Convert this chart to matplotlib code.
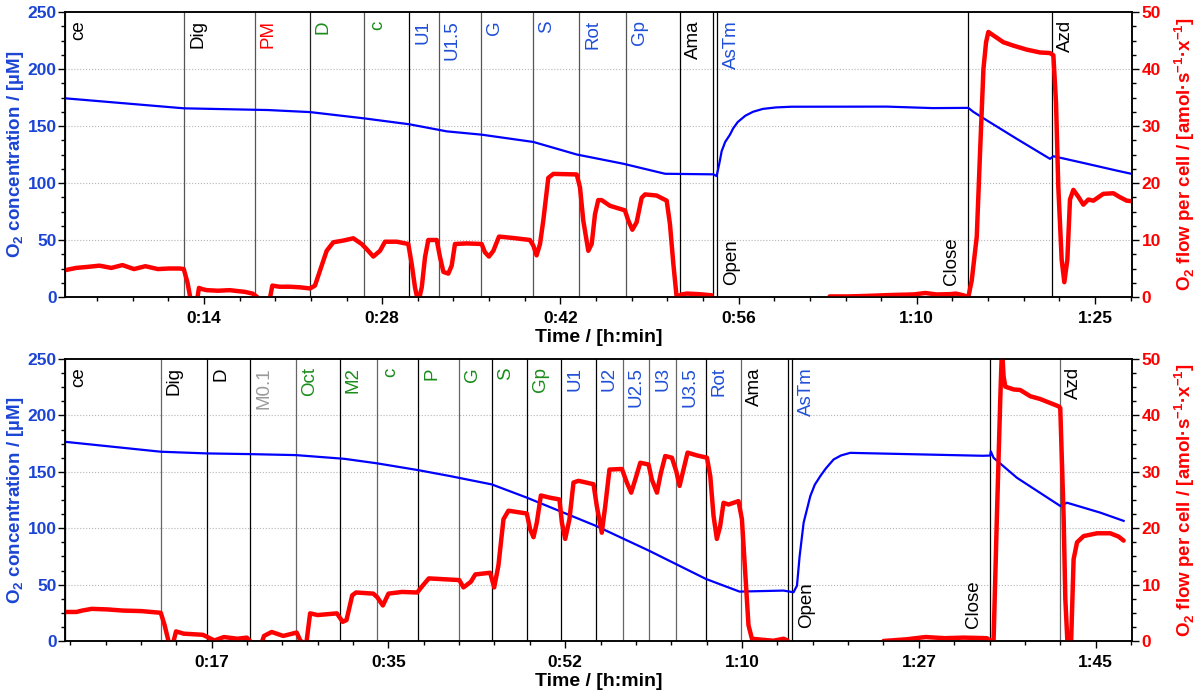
import matplotlib
matplotlib.use('Agg')
import matplotlib.pyplot as plt
from matplotlib.ticker import MultipleLocator, FuncFormatter

nan = float('nan')

# ---- top run (time in minutes) ----
top_conc_t = [3.12, 12.58, 19.26, 22.6, 26.89, 30.5, 33.46, 36.24, 40.35, 43.8, 47.5, 50.82,
              54.66, 54.92, 55.15, 55.32, 55.6, 55.98, 56.24, 56.6, 57.2, 57.82, 58.6, 59.64,
              60.86, 68.46, 72.1, 74.93, 75.33, 76.39, 78.77, 81.42, 81.69, 84.07, 86.72, 87.92]
top_conc = [174.3, 165.5, 164, 162.2, 156.7, 151.5, 145.3, 142.4, 136, 125, 116.9, 108.1,
            107.6, 106.1, 118, 127.9, 136, 142.4, 148, 153.5, 159, 162.5, 165, 166.3,
            166.9, 167, 165.7, 165.9, 162.4, 155, 138.8, 121.2, 123.5, 117.6, 110.9, 108]

top_flow_t = [3.12, 4.0, 5.0, 5.86, 6.8, 7.69, 8.6, 9.51, 10.5, 11.4, 12.25, 12.56, 12.86, 13.07,
              13.3, 13.62, 13.77, 14.0, 14.38, 15.3, 16.2, 17.0, 17.42, 18.03, 18.4, 18.94, 19.43,
              19.6, 20.16, 21.0, 21.8, 22.6, 22.99, 23.39, 23.92, 24.45, 25.24, 26.04, 26.7, 27.1,
              27.63, 28.16, 28.56, 29.49, 30.41, 30.68, 30.94, 31.2, 31.48, 31.74, 32.0, 32.67,
              32.93, 33.2, 33.59, 33.86, 34.12, 35.05, 36.24, 36.5, 36.82, 37.17, 37.62, 38.76,
              40.08, 40.35, 40.61, 40.88, 41.14, 41.54, 41.94, 43.8, 44.06, 44.32, 44.72, 44.99,
              45.25, 45.51, 45.78, 46.44, 47.63, 47.9, 48.22, 48.56, 48.96, 49.23, 50.15, 50.95,
              51.21, 51.48, 51.74, 52.14, 52.54, 53.5, 54.52, 59.0,
              63.9, 65.4, 66.94, 68.77, 70.6, 71.5, 72.4, 73.47, 73.94, 74.53, 74.93, 75.2, 75.6,
              75.86, 76.13, 76.34, 76.52, 76.92, 77.71, 78.51, 79.57, 80.63, 81.42, 81.69, 81.9,
              82.08, 82.35, 82.56, 82.8, 83.01, 83.28, 83.67, 84.07, 84.47, 84.87, 85.66, 86.46,
              86.99, 87.52, 87.92]
top_flow = [4.7, 5.1, 5.3, 5.5, 5.1, 5.6, 4.9, 5.4, 4.9, 5.0, 5.0, 4.9, 2.5, 0.0,
            -3, -0.5, 1.6, 1.4, 1.2, 1.1, 1.2, 1.0, 0.9, 0.6, 0.0, -3, 0.0,
            2.0, 1.8, 1.8, 1.7, 1.5, 2.0, 4.65, 8.1, 9.6, 9.9, 10.3, 9.3, 8.4,
            7.1, 8.1, 9.7, 9.7, 9.3, 5.8, 1.7, -1, 1.7, 7.0, 10.0, 10.0,
            7.0, 4.4, 4.1, 5.5, 9.3, 9.4, 9.3, 7.85, 7.1, 8.1, 10.6, 10.35,
            10.0, 9.0, 7.3, 9.3, 13.4, 20.9, 21.6, 21.5, 19.2, 13.4, 8.1, 9.3,
            14.5, 17.0, 17.0, 16.0, 15.2, 13.4, 11.8, 13.1, 17.4, 18.0, 17.8, 16.9,
            12.8, 5.8, 0.0, 0.45, 0.6, 0.5, 0.3, nan,
            0.1, 0.1, 0.2, 0.35, 0.45, 0.7, 0.45, 0.5, 0.6, 0.3, 0.0, 2.9, 10.6,
            25.3, 40, 44.7, 46.5, 45.9, 44.7, 44.1, 43.4, 42.9, 42.8, 42.4, 34.1,
            19.4, 6.5, 2.6, 6.5, 17.1, 18.8, 17.6, 16.2, 17.1, 16.9, 18.1, 18.2,
            17.5, 16.9, 16.8]

top_events = ['ce', 'Dig', 'PM', 'D', 'c', 'U1', 'U1.5', 'G', 'S', 'Rot', 'Gp', 'Ama', 'AsTm', 'Azd']
top_event_t = [3.12, 12.58, 18.22, 22.56, 26.89, 30.50, 32.85, 36.19, 40.32, 43.98, 47.71,
               51.97, 54.95, 81.58]
top_chamber = ['Open', 'Close']
top_chamber_t = [54.63, 74.90]

# ---- bottom run ----
bot_conc_t = [2.99, 12.47, 17.02, 21.19, 25.84, 30.65, 33.88, 37.94, 41.11, 45.24, 48.7, 55.53,
              60.81, 66.43, 69.75, 74.11, 75.1, 75.44, 75.7, 76.1, 76.76, 77.2, 77.75, 78.3,
              79.06, 79.8, 80.71, 86.27, 93.84, 94.57, 94.62, 94.9, 97.21, 101.5, 102.16,
              105.46, 107.77]
bot_conc = [176.6, 167.8, 166.3, 165.7, 164.8, 161.5, 157.5, 151.5, 146.2, 138.8, 127.1, 102.1,
            80, 55, 43.8, 44.7, 43.2, 49.1, 75, 105, 128.5, 138.5, 146.2, 153,
            160.9, 164.5, 166.8, 165.7, 164.2, 164.4, 168.2, 162.4, 144.7, 119.7, 122.6,
            113.8, 106.5]

bot_flow_t = [2.99, 4.13, 4.70, 5.64, 7.17, 8.68, 10.57, 12.47, 12.85, 13.23, 13.6, 13.98, 14.74,
              16.63, 17.77, 18.72, 20.05, 20.99, 21.56, 22.32, 22.69, 23.45, 24.59, 25.92, 26.3,
              26.87, 27.25, 28.0, 29.9, 30.47, 30.85, 31.42, 31.8, 33.5, 33.88, 34.45, 35.01,
              36.34, 37.85, 38.43, 39.0, 40.89, 42.02, 42.43, 43.16, 43.6, 45.07, 45.47, 45.89,
              46.39, 46.88, 48.7, 49.03, 49.36, 49.69, 50.09, 51.01, 51.93, 52.17, 52.5, 52.92,
              53.32, 53.81, 55.3, 55.63, 56.12, 56.46, 56.88, 58.11, 58.6, 59.03, 59.43, 59.93,
              60.75, 61.08, 61.58, 61.97, 62.4, 63.06, 63.49, 63.82, 64.21, 64.61, 65.54, 66.53,
              66.86, 67.18, 67.51, 67.84, 68.17, 68.66, 69.65, 69.99, 70.32, 70.64, 70.98, 72.13,
              73.12, 74.11, 74.5, 80.0,
              84.0, 86.27, 88.16, 90.06, 91.95, 94.23, 94.57, 94.9, 95.23, 95.56, 95.73, 95.89,
              96.06, 96.88, 97.54, 98.53, 99.52, 100.51, 101.34, 101.5, 101.83, 102.0, 102.23,
              102.56, 102.82, 103.16, 103.81, 105.14, 106.45, 107.28, 107.77]
bot_flow = [5.15, 5.15, 5.4, 5.7, 5.6, 5.4, 5.3, 5.0, 2.8, 0.0, -1, 1.7, 1.3,
            1.1, 0.1, 0.7, 0.4, 0.6, -0.5, -1, 0.9, 1.6, 0.9, 1.5, 0.0,
            -0.5, 4.9, 4.6, 4.9, 3.4, 3.7, 8.1, 8.6, 8.4, 7.8, 6.3, 8.4,
            8.7, 8.6, 9.9, 11.1, 10.9, 10.8, 9.5, 10.5, 11.8, 12.1, 9.5, 13.4,
            21.6, 23.1, 22.6, 19.8, 18.4, 21.0, 25.8, 25.4, 25.1, 21.0, 18.1, 21.6,
            28.1, 28.4, 27.8, 23.9, 19.2, 23.9, 30.4, 30.5, 28.1, 26.3, 28.6, 31.6,
            31.3, 28.6, 26.3, 29.8, 32.8, 32.5, 30.1, 27.5, 30.4, 33.4, 32.9, 32.5,
            29.2, 22.2, 18.1, 20.4, 24.5, 24.2, 24.8, 21.6, 12.2, 2.8, 0.4, 0.2,
            0.05, 0.4, 0.1, nan,
            0.0, 0.3, 0.7, 0.5, 0.6, 0.5, 0.1, 0.1, 22.2, 42.8, 52, 46.9,
            45.1, 44.6, 44.5, 43.4, 42.9, 42.2, 41.6, 41.3, 22.2, 7.5, -1,
            -1, 14.5, 17.5, 18.6, 19.1, 19.1, 18.5, 17.8]

bot_events = ['ce', 'Dig', 'D', 'M0.1', 'Oct', 'M2', 'c', 'P', 'G', 'S', 'Gp', 'U1', 'U2', 'U2.5',
              'U3', 'U3.5', 'Rot', 'Ama', 'AsTm', 'Azd']
bot_event_t = [2.99, 12.49, 17.05, 21.31, 25.86, 30.17, 33.88, 37.94, 42.0, 45.27, 48.73, 52.10,
               55.53, 58.21, 60.81, 63.49, 66.43, 69.89, 74.99, 101.5]
bot_chamber = ['Open', 'Close']
bot_chamber_t = [74.6, 94.57]

# label colours
K, R, G, B, GR = 'black', '#ff0000', '#1a8c1a', '#1f4fd8', '#9a9a9a'
top_label_col = [K, K, R, G, G, B, B, B, B, B, B, K, B, K]
top_line_col = ['#555', '#555', '#555', '#222', '#555', 'k', '#555', '#555', '#555', '#555',
                '#555', 'k', 'k', 'k']
bot_label_col = [K, K, K, GR, G, G, G, G, G, G, G, B, B, B, B, B, B, K, B, K]
bot_line_col = ['k', '#666', 'k', 'k', '#666', 'k', '#666', 'k', '#666', 'k', 'k', 'k', 'k',
                '#666', '#666', '#666', 'k', '#666', 'k', '#666']

LEFT_COL = '#1c44d4'

plt.rcParams['font.family'] = ['Liberation Sans', 'DejaVu Sans']
plt.rcParams['mathtext.fontset'] = 'custom'
plt.rcParams['mathtext.rm'] = 'Liberation Sans'
plt.rcParams['mathtext.bf'] = 'Liberation Sans:bold'


def hmin(t, pos):
    m = int(t + 1e-6)
    return '%d:%02d' % (m // 60, m % 60)


def panel(ax, ct, c, ft, f, xlim, major, minor, ev, ev_t, lab_col, line_col, ch, ch_t):
    ax2 = ax.twinx()
    ax.set_xlim(*xlim)
    ax.set_ylim(0, 250)
    ax2.set_ylim(0, 50)
    for y in [50, 100, 150, 200]:
        ax.axhline(y, color='#b5b5b5', lw=0.8, ls=':', zorder=0)

    for name, t, lc, tc in zip(ev, ev_t, line_col, lab_col):
        ax.axvline(t, color=lc, lw=0.9, zorder=1)
        dx = 4.3 if name == 'AsTm' else 3.6
        ax.annotate(name, xy=(t, 1), xycoords=('data', 'axes fraction'), xytext=(dx, -6),
                    textcoords='offset points', rotation=90, ha='left', va='top',
                    fontsize=13.5, color=tc)
    for name, t in zip(ch, ch_t):
        ax.axvline(t, color='k', lw=0.9, zorder=1)
        if name == 'Open':
            ax.annotate(name, xy=(t, 0), xycoords=('data', 'axes fraction'), xytext=(7, 9),
                        textcoords='offset points', rotation=90, ha='left', va='bottom',
                        fontsize=13.5)
        else:
            ax.annotate(name, xy=(t, 0), xycoords=('data', 'axes fraction'), xytext=(-6, 9),
                        textcoords='offset points', rotation=90, ha='right', va='bottom',
                        fontsize=13.5)

    ax.plot(ct, c, color='#0000ff', lw=1.6, zorder=3)
    ax2.plot(ft, f, color='#ff0000', lw=3.2, solid_joinstyle='round', solid_capstyle='round')

    ax.xaxis.set_major_locator(MultipleLocator(major))
    ax.xaxis.set_minor_locator(MultipleLocator(minor))
    ax.xaxis.set_major_formatter(FuncFormatter(hmin))
    ax.yaxis.set_major_locator(MultipleLocator(50))
    ax.yaxis.set_minor_locator(MultipleLocator(12.5))
    ax2.yaxis.set_major_locator(MultipleLocator(10))
    ax2.yaxis.set_minor_locator(MultipleLocator(2.5))

    ax.tick_params(axis='x', which='major', length=5, width=1, labelsize=12.5, pad=5)
    ax.tick_params(axis='x', which='minor', length=3, width=1)
    ax.tick_params(axis='y', which='major', length=5, width=1, labelsize=12.5,
                   labelcolor=LEFT_COL, pad=1)
    ax.tick_params(axis='y', which='minor', length=3, width=1)
    ax2.tick_params(axis='y', which='major', length=5, width=1, labelsize=12.5,
                    labelcolor='#ff0000', pad=2)
    ax2.tick_params(axis='y', which='minor', length=3, width=1)
    for lab in ax.get_xticklabels() + ax.get_yticklabels() + ax2.get_yticklabels():
        lab.set_fontweight('bold')
    for a in (ax, ax2):
        for s in a.spines.values():
            s.set_linewidth(1.1)

    ax.set_xlabel('Time / [h:min]', fontsize=14, fontweight='bold', labelpad=2)
    ax.set_ylabel(r'O$_{\mathbf{2}}$ concentration / [µM]', fontsize=13.5, fontweight='bold',
                  color=LEFT_COL, labelpad=1)
    ax2.set_ylabel(r'O$_{\mathbf{2}}$ flow per cell / [amol·s$^{\mathbf{-1}}$·x$^{\mathbf{-1}}$]',
                   fontsize=13.5, fontweight='bold', color='#ff0000', labelpad=8)


fig = plt.figure(figsize=(12, 6.94), dpi=100)
ax_top = fig.add_axes([65 / 1200, 1 - 297 / 694, 1067 / 1200, 285 / 694])
ax_bot = fig.add_axes([65 / 1200, 1 - 641 / 694, 1067 / 1200, 282 / 694])

panel(ax_top, top_conc_t, top_conc, top_flow_t, top_flow, (3.12, 87.94), 850 / 60, 170 / 60,
      top_events, top_event_t, top_label_col, top_line_col, top_chamber, top_chamber_t)
panel(ax_bot, bot_conc_t, bot_conc, bot_flow_t, bot_flow, (2.99, 108.6), 17.5, 3.5,
      bot_events, bot_event_t, bot_label_col, bot_line_col, bot_chamber, bot_chamber_t)

fig.savefig('out.png', dpi=100)
